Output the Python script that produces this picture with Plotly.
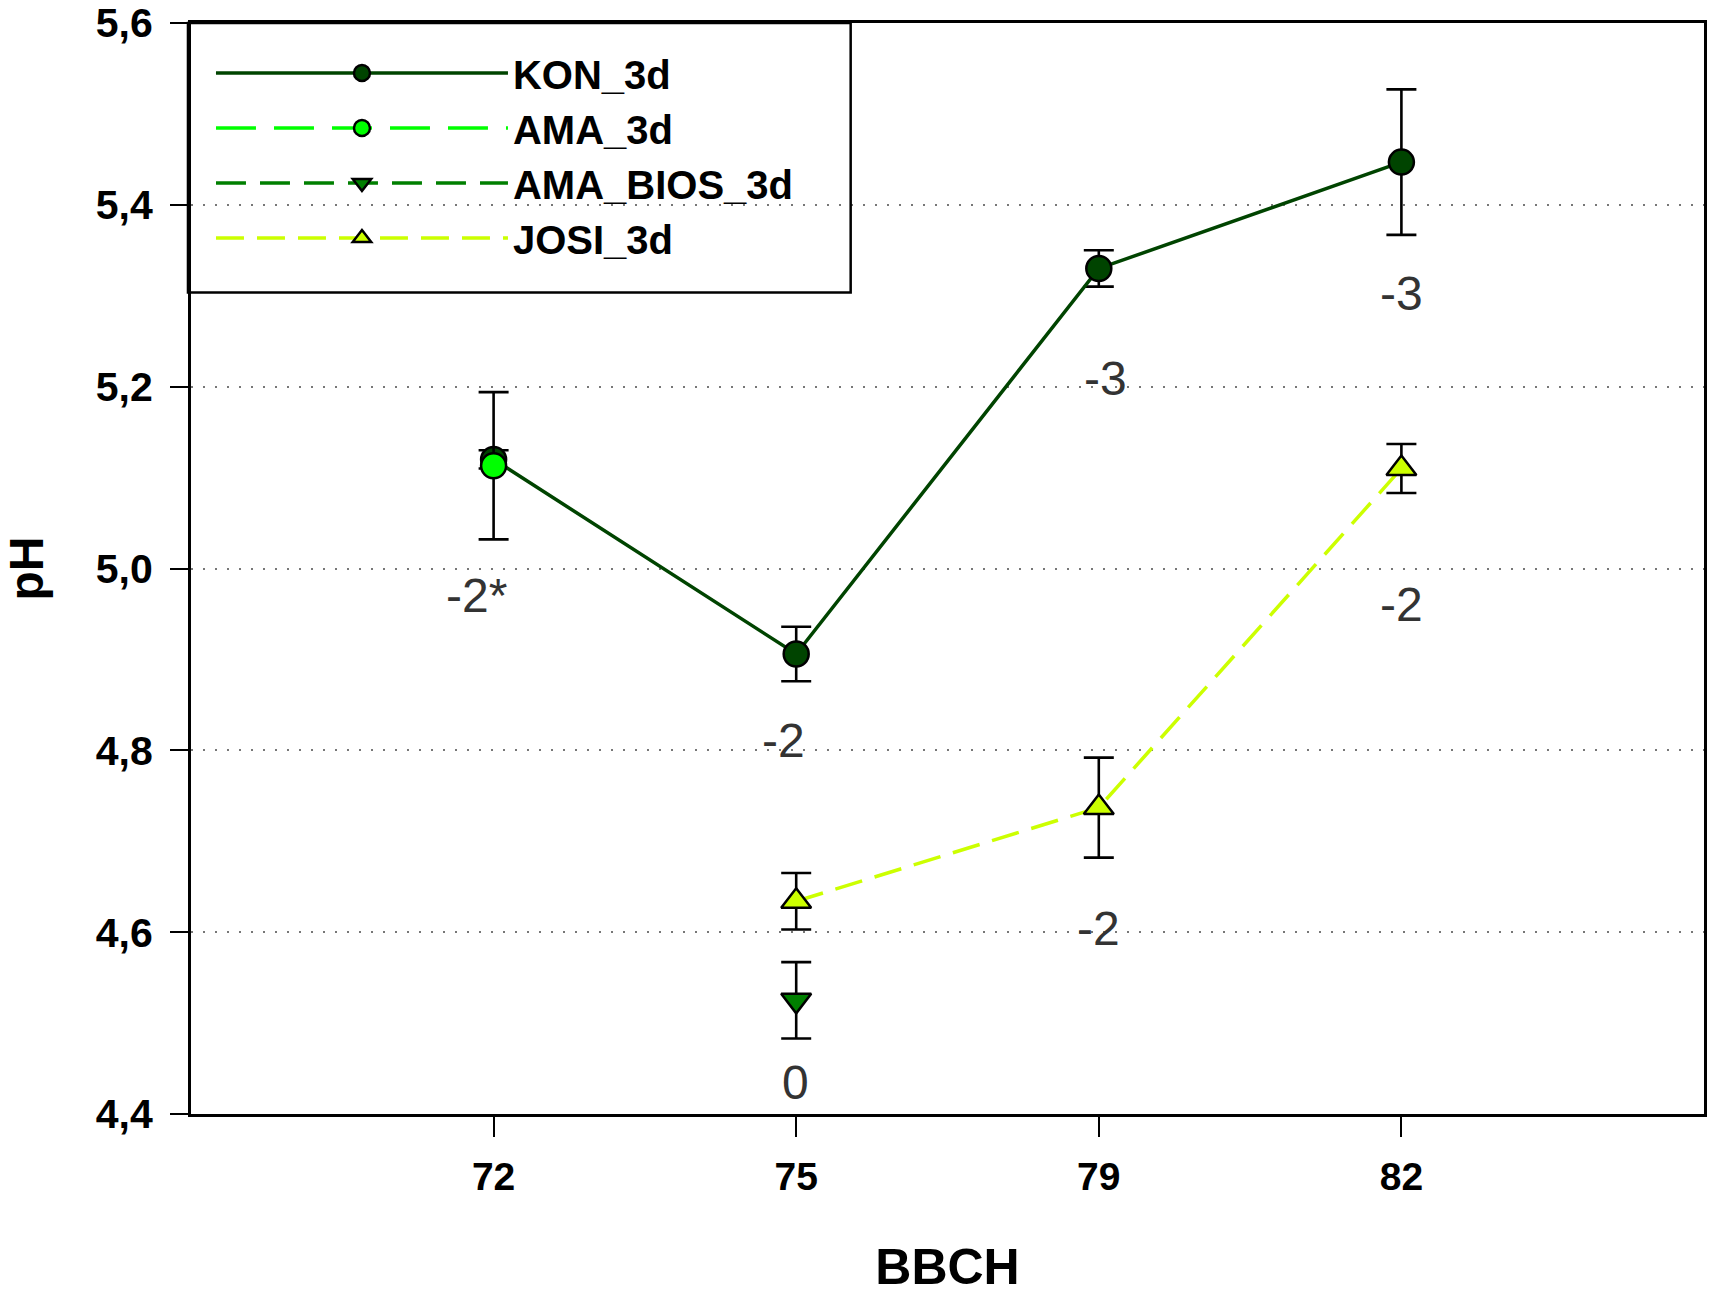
import plotly.graph_objects as go

categories = ["72", "75", "79", "82"]

kon_x = ["72", "75", "79", "82"]
kon_y = [5.120, 4.906, 5.330, 5.447]
kon_err = [0.010, 0.030, 0.020, 0.080]

ama_x = ["72"]
ama_y = [5.113]
ama_err = [0.081]

bios_x = ["75"]
bios_y = [4.525]
bios_err = [0.042]

josi_x = ["75", "79", "82"]
josi_y = [4.634, 4.737, 5.110]
josi_err = [0.031, 0.055, 0.027]

label_x = ["72", "75", "75", "79", "79", "82", "82"]
label_text = ["-2*", "-2", "0", "-3", "-2", "-3", "-2"]
label_y = [4.970, 4.811, 4.435, 5.209, 4.604, 5.302, 4.960]
label_shift = [-17, -13, -1, 7, 0, 0, 0]

y_ticks = [4.4, 4.6, 4.8, 5.0, 5.2, 5.4, 5.6]

FONT = "Liberation Sans, Arial, sans-serif"

err_style = dict(type="data", color="black", thickness=2.6, width=15, visible=True)

fig = go.Figure()

fig.add_trace(go.Scatter(
    x=kon_x, y=kon_y, name="KON_3d", mode="lines+markers",
    line=dict(color="#004400", width=3.5),
    marker=dict(symbol="circle", size=25, color="#004400", line=dict(color="black", width=2.5)),
    error_y=dict(array=kon_err, **err_style),
))
fig.add_trace(go.Scatter(
    x=ama_x, y=ama_y, name="AMA_3d", mode="lines+markers",
    line=dict(color="#00ff00", width=3.5, dash="40px,18px"),
    marker=dict(symbol="circle", size=25, color="#00ff00", line=dict(color="black", width=2.5)),
    error_y=dict(array=ama_err, **err_style),
))
fig.add_trace(go.Scatter(
    x=bios_x, y=bios_y, name="AMA_BIOS_3d", mode="lines+markers",
    line=dict(color="#007f00", width=3.5, dash="30px,14px"),
    marker=dict(symbol="triangle-down", size=26, color="#007f00", line=dict(color="black", width=2.5)),
    error_y=dict(array=bios_err, **err_style),
))
fig.add_trace(go.Scatter(
    x=josi_x, y=josi_y, name="JOSI_3d", mode="lines+markers",
    line=dict(color="#ccff00", width=3.5, dash="28px,13px"),
    marker=dict(symbol="triangle-up", size=26, color="#ccff00", line=dict(color="black", width=2.5)),
    error_y=dict(array=josi_err, **err_style),
))

for lx, lt, ly, ls in zip(label_x, label_text, label_y, label_shift):
    fig.add_annotation(x=categories.index(lx), y=ly, text=lt, showarrow=False, xshift=ls,
                       xref="x", yref="y",
                       font=dict(family=FONT, size=48, color="#333333"),
                       xanchor="center", yanchor="middle")

# legend frame
fig.add_shape(type="rect", xref="paper", yref="paper",
              x0=-0.002, x1=0.436, y0=0.753, y1=1.0,
              line=dict(color="black", width=2.5), fillcolor="rgba(0,0,0,0)")

fig.update_layout(
    width=1710, height=1297,
    margin=dict(l=191, r=6, t=23, b=183),
    paper_bgcolor="white", plot_bgcolor="white",
    separators=",.",
    font=dict(family=FONT, color="black"),
    showlegend=True,
    legend=dict(
        x=0.0132, y=0.984, xanchor="left", yanchor="top",
        bgcolor="rgba(0,0,0,0)", borderwidth=0,
        font=dict(family=FONT, size=40, color="black", weight="bold"),
        itemwidth=292, tracegroupgap=0,
    ),
    xaxis=dict(
        type="category", categoryorder="array", categoryarray=categories,
        range=[-1, 4], showgrid=False, zeroline=False, automargin=False,
        showline=True, linecolor="black", linewidth=3, mirror=True,
        ticks="outside", ticklen=20, tickwidth=2, tickcolor="black",
        tickfont=dict(family=FONT, size=39, color="black", weight="bold"),
        ticklabelstandoff=6,
        title=dict(text="BBCH", font=dict(family=FONT, size=50, color="black", weight="bold"), standoff=53),
    ),
    yaxis=dict(
        range=[4.4, 5.6], tickvals=y_ticks, tickformat=".1f",
        showgrid=True, gridcolor="#777777", gridwidth=1.5, griddash="2px,10px",
        zeroline=False, automargin=False,
        showline=True, linecolor="black", linewidth=3, mirror=True,
        ticks="outside", ticklen=18, tickwidth=2, tickcolor="black",
        tickfont=dict(family=FONT, size=41, color="black", weight="bold"),
        ticklabelstandoff=9,
        title=dict(text="pH", font=dict(family=FONT, size=48, color="black", weight="bold"), standoff=40),
    ),
)

fig.write_html("out.html", config={"displayModeBar": False},
               post_script="document.body.style.margin='0px';")
